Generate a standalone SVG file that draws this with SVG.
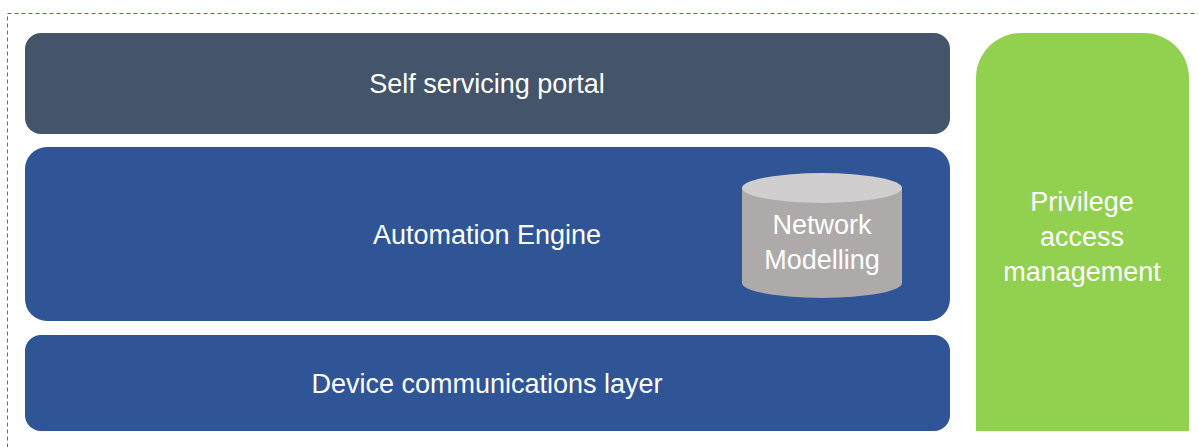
<svg xmlns="http://www.w3.org/2000/svg" width="1198" height="447" viewBox="0 0 1198 447">
<style>
text{font-family:"Liberation Sans","DejaVu Sans",sans-serif;fill:#ffffff;text-anchor:middle;font-size:27px}
.dark{fill:#44546a}
.blue{fill:#2f5597}
.green{fill:#92d050}
</style>
<rect x="0" y="0" width="1198" height="447" fill="#ffffff"/>
<rect id="frame" x="7.5" y="13.5" width="1220" height="460" fill="none" stroke="#4f6fa3" stroke-width="1" stroke-dasharray="4 3"/>
<g id="portal">
<rect class="dark" x="25" y="33" width="925" height="101" rx="16"/>
<text x="487" y="93">Self servicing portal</text>
</g>
<g id="engine">
<rect class="blue" x="25" y="147" width="925" height="174" rx="22"/>
<text x="487" y="244">Automation Engine</text>
</g>
<g id="network-modelling">
<path d="M742 188 V283 A80 15 0 0 0 902 283 V188 Z" fill="#aeaaaa"/>
<ellipse cx="822" cy="188" rx="80" ry="15" fill="#d0cece"/>
<text x="822" y="234">Network</text>
<text x="822" y="269">Modelling</text>
</g>
<g id="device">
<rect class="blue" x="25" y="335" width="925" height="96" rx="16"/>
<text x="487" y="393">Device communications layer</text>
</g>
<g id="pam">
<path class="green" d="M976 431 V78 A45 45 0 0 1 1021 33 H1144 A45 45 0 0 1 1189 78 V431 Z"/>
<text x="1082" y="211">Privilege</text>
<text x="1082" y="246">access</text>
<text x="1082" y="281">management</text>
</g>
<g id="connectors"/>
</svg>
